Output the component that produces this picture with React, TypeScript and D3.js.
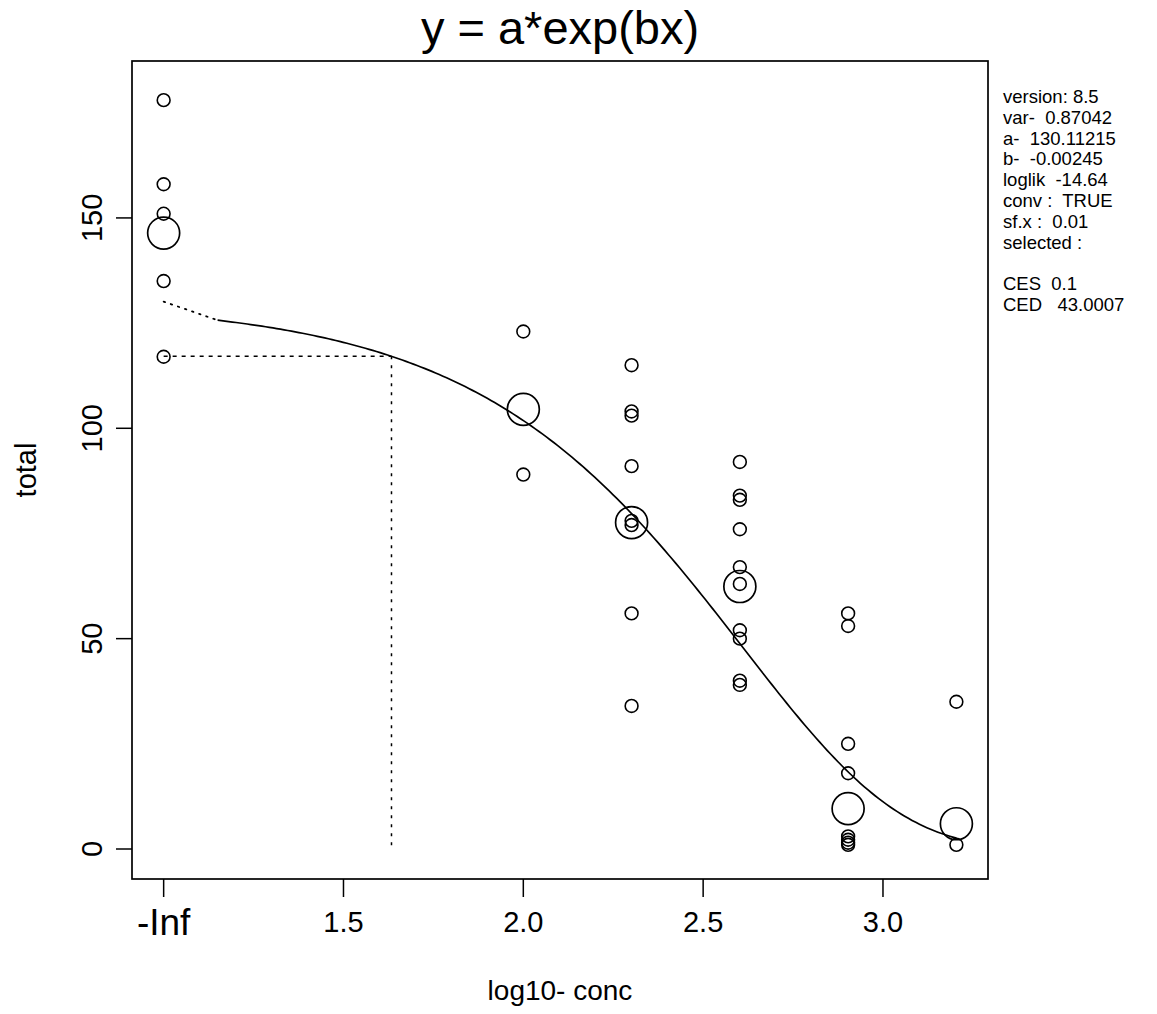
import React from "react";
import * as d3 from "d3";

// ---- data ----
const doseLabels = ["-Inf", "2.0", "2.3", "2.6", "2.9", "3.2"];
const doses = [0, 100, 200, 400, 800, 1600];
const obs0 = [178, 158, 151, 135, 117];
const obs100 = [123, 89];
const obs200 = [115, 104, 103, 91, 78, 77, 56, 34];
const obs400 = [92, 84, 83, 76, 67, 63, 52, 50, 40, 39];
const obs800 = [56, 53, 25, 18, 3, 2.2, 1.5, 1];
const obs1600 = [35, 1];
const groupMeans = [146.4, 104.5, 77.6, 62.4, 9.6, 6.0];
const xTickVals = [1.0, 1.5, 2.0, 2.5, 3.0];
const xTickLabels = ["-Inf", "1.5", "2.0", "2.5", "3.0"];
const yTickVals = [0, 50, 100, 150];
const infPos = 1.0;
const parA = 130.11215;
const parB = -0.00245;
const CES = 0.1;
const CED = 43.0007;
const curveStartLog = 1.15;
const infoLines = [
  "version: 8.5",
  "var-  0.87042",
  "a-  130.11215",
  "b-  -0.00245",
  "loglik  -14.64",
  "conv :  TRUE",
  "sf.x :  0.01",
  "selected :",
  "",
  "CES  0.1",
  "CED   43.0007",
];

const groups = [obs0, obs100, obs200, obs400, obs800, obs1600];

export default function App() {
  const W = 1157, H = 1014;
  const L = 132, R = 988, T = 61, B = 879;
  const x = d3.scaleLinear().domain([0.912, 3.292]).range([L, R]);
  const y = d3.scaleLinear().domain([-7.13, 187.3]).range([B, T]);
  const xpos = (d: number) => (d === 0 ? infPos : Math.log10(d));
  const f = (d: number) => parA * Math.exp(parB * d);

  const curvePts: [number, number][] = d3
    .range(0, 201)
    .map((i) => curveStartLog + (i / 200) * (Math.log10(1600) - curveStartLog))
    .map((lx) => [x(lx), y(f(Math.pow(10, lx)))]);
  const line = d3.line();
  const ySES = parA * (1 - CES);
  const font = "'Liberation Sans', Arial, Helvetica, sans-serif";
  const infoSize = 18.5;
  const infoStep = 20.8;

  return (
    <svg width={W} height={H} style={{ position: "absolute", left: 0, top: 0, background: "#fff" }} fontFamily={font}>
      <rect x={0} y={0} width={W} height={H} fill="#fff" />
      {/* title */}
      <text x={(L + R) / 2} y={44} textAnchor="middle" fontSize={47}>y = a*exp(bx)</text>
      {/* box */}
      <rect x={L} y={T} width={R - L} height={B - T} fill="none" stroke="#000" strokeWidth={1.7} />
      {/* x axis ticks */}
      {xTickVals.map((v, i) => (
        <g key={"xt" + i}>
          <line x1={x(v)} x2={x(v)} y1={B} y2={B + 18} stroke="#000" strokeWidth={1.5} />
          <text x={x(v)} y={i === 0 ? 935 : 932} textAnchor="middle" fontSize={i === 0 ? 37 : 29}>{xTickLabels[i]}</text>
        </g>
      ))}
      {/* y axis ticks */}
      {yTickVals.map((v, i) => (
        <g key={"yt" + i}>
          <line x1={L} x2={L - 16} y1={y(v)} y2={y(v)} stroke="#000" strokeWidth={1.5} />
          <text transform={`translate(102,${y(v)}) rotate(-90)`} textAnchor="middle" fontSize={29}>{v}</text>
        </g>
      ))}
      <text x={(L + R) / 2} y={1000} textAnchor="middle" fontSize={28}>log10- conc</text>
      <text transform={`translate(36,${(T + B) / 2}) rotate(-90)`} textAnchor="middle" fontSize={29}>total</text>

      {/* CED lines */}
      <line x1={x(infPos)} x2={x(Math.log10(CED))} y1={y(ySES)} y2={y(ySES)} stroke="#000" strokeWidth={1.5} strokeDasharray="4 5" />
      <line x1={x(Math.log10(CED))} x2={x(Math.log10(CED))} y1={y(ySES)} y2={y(0)} stroke="#000" strokeWidth={1.5} strokeDasharray="3 6" />

      {/* dotted connection from -Inf */}
      <line x1={x(infPos)} y1={y(parA)} x2={x(curveStartLog)} y2={y(f(Math.pow(10, curveStartLog)))} stroke="#000" strokeWidth={1.8} strokeDasharray="1.5 6" strokeLinecap="round" />
      {/* fitted curve */}
      <path d={line(curvePts) || ""} fill="none" stroke="#000" strokeWidth={1.7} />

      {/* observations */}
      {groups.map((g, gi) =>
        g.map((v, j) => (
          <circle key={`p${gi}-${j}`} cx={x(xpos(doses[gi]))} cy={y(v)} r={6.4} fill="none" stroke="#000" strokeWidth={1.6} />
        ))
      )}
      {groupMeans.map((m, gi) => (
        <circle key={"m" + gi} cx={x(xpos(doses[gi]))} cy={y(m)} r={16} fill="none" stroke="#000" strokeWidth={1.7} />
      ))}

      {/* info block */}
      {infoLines.map((s, i) =>
        s === "" ? null : (
          <text key={"info" + i} x={1003} y={103 + i * infoStep} fontSize={infoSize} xmlSpace="preserve" style={{ whiteSpace: "pre" }}>{s}</text>
        )
      )}
    </svg>
  );
}
